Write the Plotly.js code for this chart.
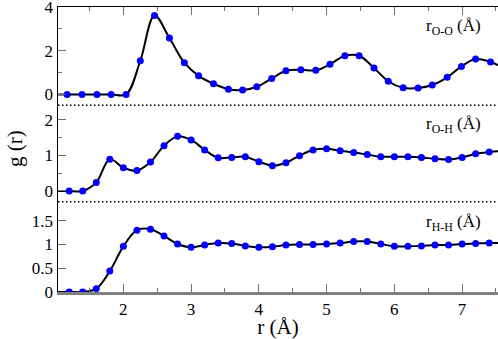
<!DOCTYPE html>
<html>
<head>
<meta charset="utf-8">
<script src="https://cdn.plot.ly/plotly-3.0.1.min.js"></script>
<style>
  html, body { margin: 0; padding: 0; background: #fff; }
  #chart { width: 498px; height: 339px; }
</style>
</head>
<body>
<div id="chart"></div>
<script>
// Radial distribution functions g(r) for O-O, O-H and H-H pairs,
// three stacked panels sharing one r axis.

// --- data -----------------------------------------------------------------

const ooR = [1.17, 1.39, 1.61, 1.82, 2.04, 2.25, 2.46, 2.68, 2.90, 3.11,
             3.33, 3.55, 3.76, 3.97, 4.19, 4.40, 4.62, 4.84, 5.05, 5.27,
             5.48, 5.70, 5.91, 6.13, 6.35, 6.56, 6.78, 6.99, 7.20, 7.42];
const ooG = [0, 0, 0, 0, 0, 1.54, 3.61, 2.58, 1.45, 0.85,
             0.49, 0.24, 0.20, 0.35, 0.73, 1.08, 1.13, 1.10, 1.38, 1.77,
             1.77, 1.21, 0.60, 0.30, 0.29, 0.43, 0.78, 1.28, 1.62, 1.48];

const hR = [1.2, 1.4, 1.6, 1.8, 2.0, 2.2, 2.4, 2.6, 2.8, 3.0, 3.2,
            3.4, 3.6, 3.8, 4.0, 4.2, 4.4, 4.6, 4.8, 5.0, 5.2, 5.4,
            5.6, 5.8, 6.0, 6.2, 6.4, 6.6, 6.8, 7.0, 7.2, 7.4];
const ohG = [0, 0, 0.24, 0.89, 0.65, 0.57, 0.81, 1.27, 1.53, 1.43, 1.15,
             0.93, 0.94, 0.96, 0.82, 0.71, 0.79, 0.99, 1.15, 1.18, 1.13, 1.08,
             1.02, 0.96, 0.96, 0.96, 0.94, 0.90, 0.88, 0.94, 1.04, 1.09];
const hhG = [0, 0, 0.07, 0.44, 0.96, 1.30, 1.32, 1.18, 1.01, 0.94, 0.99,
             1.03, 1.02, 0.97, 0.94, 0.95, 0.99, 1.00, 1.00, 1.01, 1.03, 1.06,
             1.06, 1.01, 0.96, 0.96, 0.97, 0.99, 0.99, 1.01, 1.02, 1.03];

// where the fitted curves meet the frame edges
const edgeR = [1.035, 7.53];
const ooEdgeG = [0, 1.34];
const ohEdgeG = [0, 1.11];
const hhEdgeG = [0, 1.03];

const panelLabels = ['r<sub>O-O</sub> (Å)', 'r<sub>O-H</sub> (Å)', 'r<sub>H-H</sub> (Å)'];

// --- style ----------------------------------------------------------------

const FONT = '"Liberation Serif", "Times New Roman", serif';
const TICK_GREY = '#707070';

function withEdges(xs, ys, ex, ey) {
  return { x: [ex[0], ...xs, ex[1]], y: [ey[0], ...ys, ey[1]] };
}

function curve(xs, ys, ex, ey, xa, ya) {
  const c = withEdges(xs, ys, ex, ey);
  return {
    x: c.x, y: c.y, xaxis: xa, yaxis: ya,
    mode: 'lines', line: { color: '#000', width: 2, shape: 'spline', smoothing: 1 },
    hoverinfo: 'skip', showlegend: false,
  };
}

function dots(xs, ys, xa, ya) {
  return {
    x: xs, y: ys, xaxis: xa, yaxis: ya,
    mode: 'markers', marker: { color: '#0000ff', size: 7 },
    showlegend: false,
  };
}

const traces = [
  curve(ooR, ooG, edgeR, ooEdgeG, 'x2', 'y'),
  dots(ooR, ooG, 'x2', 'y'),
  curve(hR, ohG, edgeR, ohEdgeG, 'x', 'y2'),
  dots(hR, ohG, 'x', 'y2'),
  curve(hR, hhG, edgeR, hhEdgeG, 'x', 'y3'),
  dots(hR, hhG, 'x', 'y3'),
];

const xBase = {
  range: [edgeR[0], edgeR[1]],
  dtick: 1, tick0: 0,
  ticks: 'inside', ticklen: 8, tickwidth: 1, tickcolor: TICK_GREY,
  minor: { ticks: 'inside', dtick: 0.5, tick0: 0, ticklen: 4, tickcolor: TICK_GREY },
  showgrid: false, zeroline: false,
  tickfont: { family: FONT, size: 17, color: '#000' },
};

function yAxis(domain, range, dtick, minorDtick) {
  const ax = {
    domain, range, dtick, tick0: 0,
    ticks: 'inside', ticklen: 8, tickwidth: 1, tickcolor: TICK_GREY,
    showline: true, linecolor: '#000', linewidth: 1.5,
    showgrid: false, zeroline: false, anchor: 'x',
    ticklabeloverflow: 'allow',
    tickfont: { family: FONT, size: 17, color: '#000' },
  };
  if (minorDtick) {
    ax.minor = { ticks: 'inside', dtick: minorDtick, tick0: 0, ticklen: 4, tickcolor: TICK_GREY };
  }
  return ax;
}

const SPLIT_HIGH = 0.655;
const SPLIT_LOW = 0.317;

const separator = (y) => ({
  type: 'line', xref: 'paper', yref: 'paper',
  x0: 0, x1: 1, y0: y, y1: y,
  line: { color: '#000', width: 1.5, dash: '1.5px,2.5px' },
});

const label = (text, y) => ({
  text, xref: 'paper', yref: 'paper', x: 0.967, y,
  xanchor: 'right', yanchor: 'middle', showarrow: false,
  font: { family: FONT, size: 17, color: '#000' },
});

const layout = {
  width: 498, height: 339,
  margin: { l: 58, r: 0, t: 7, b: 47 },
  paper_bgcolor: '#fff', plot_bgcolor: '#fff',
  showlegend: false,
  xaxis: {
    ...xBase, anchor: 'y3',
    showline: true, linecolor: '#808080', linewidth: 2.5,
    title: { text: 'r (Å)', font: { family: FONT, size: 21, color: '#000' }, standoff: 8 },
  },
  xaxis2: {
    ...xBase, anchor: 'y', side: 'top', matches: 'x',
    showticklabels: false,
    showline: true, linecolor: '#000', linewidth: 1.5,
  },
  yaxis: yAxis([SPLIT_HIGH, 1], [-0.5, 4.0005], 2, 1),
  yaxis2: yAxis([SPLIT_LOW, SPLIT_HIGH], [-0.3, 2.4], 1, 0.5),
  yaxis3: yAxis([0, SPLIT_LOW], [0, 1.9], 0.5, null),
  shapes: [separator(SPLIT_HIGH), separator(SPLIT_LOW)],
  annotations: [
    label(panelLabels[0], 0.93),
    label(panelLabels[1], 0.586),
    label(panelLabels[2], 0.242),
    {
      text: 'g (r)', xref: 'paper', yref: 'paper', x: -0.098, y: 0.505,
      xanchor: 'center', yanchor: 'middle', textangle: -90, showarrow: false,
      font: { family: FONT, size: 21, color: '#000' },
    },
  ],
};

Plotly.newPlot('chart', traces, layout, { staticPlot: true, displayModeBar: false });
</script>
</body>
</html>
